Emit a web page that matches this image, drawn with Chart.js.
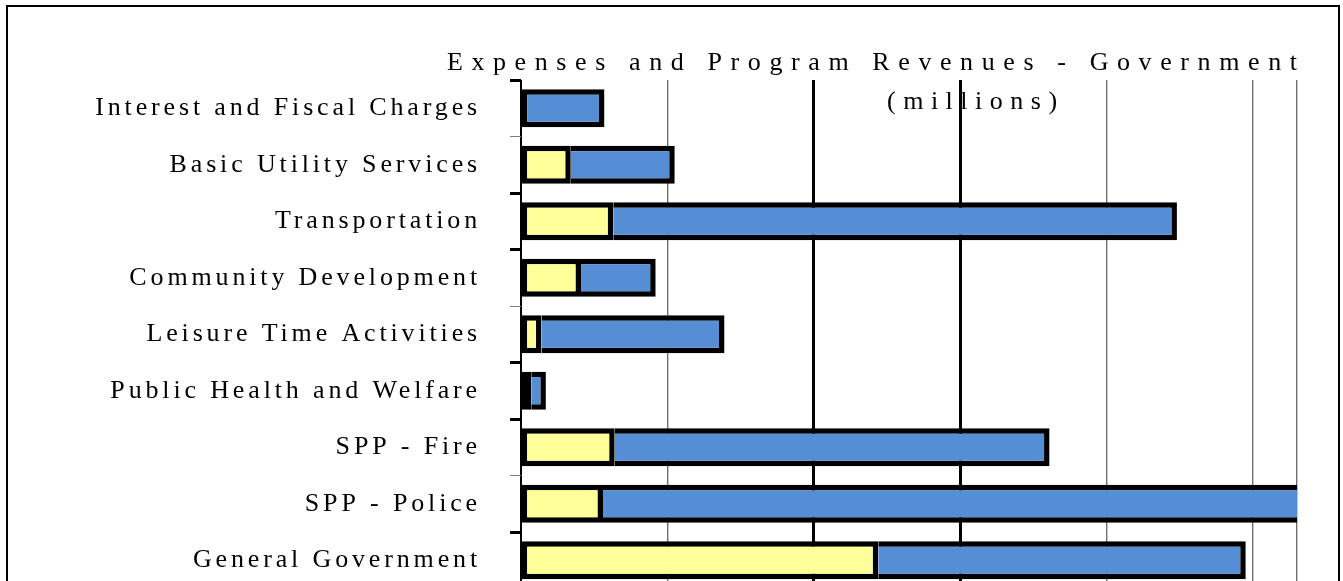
<!DOCTYPE html>
<html><head><meta charset="utf-8">
<script src="https://cdn.jsdelivr.net/npm/chart.js@4.4.1/dist/chart.umd.min.js"></script>
<style>
html,body{margin:0;padding:0;width:1343px;height:581px;overflow:hidden;background:#fff;}
#frame{position:absolute;left:6px;top:5px;width:1330px;height:700px;border:2px solid #000;}
#wrap{position:absolute;left:0;top:0;width:1343px;height:650px;}
</style></head><body>
<div id="frame"></div>
<div id="wrap"><canvas id="c"></canvas></div>
<script>
const categories = ['Interest and Fiscal Charges','Basic Utility Services','Transportation','Community Development','Leisure Time Activities','Public Health and Welfare','SPP - Fire','SPP - Police','General Government'];
const programRevenues = [0, 3.4, 6.3, 4.1, 1.4, 0.7, 6.4, 5.6, 24.4];
const expenses = [5.7, 7.1, 38.5, 5.1, 12.5, 1.0, 29.7, 49.0, 25.1];
const titleLines = ['Expenses and Program Revenues - Government', '(millions)'];
const xMax = 53, xStep = 10;

const LABEL_FONT = 'Liberation Serif';
const LABEL_SPACING = '3.85px';
const TITLE_SPACING = 8.6;
const SUB_SPACING = 7.5;
const spacingPlugin = {
  id: 'spacing',
  beforeUpdate(ch){ ch.ctx.letterSpacing = LABEL_SPACING; },
  beforeLayout(ch){ ch.ctx.letterSpacing = LABEL_SPACING; },
  beforeDraw(ch){ ch.ctx.letterSpacing = LABEL_SPACING; }
};
const titlePlugin = {
  id: 'twoLineTitle',
  afterDraw(ch){
    const c = ch.ctx, a = ch.chartArea;
    c.save();
    c.fillStyle = '#000';
    c.font = '26px "' + LABEL_FONT + '"';
    c.textBaseline = 'alphabetic';
    c.letterSpacing = TITLE_SPACING + 'px';
    c.textAlign = 'right';
    c.fillText(titleLines[0], a.right + TITLE_SPACING, a.top - 10);
    c.letterSpacing = SUB_SPACING + 'px';
    c.textAlign = 'left';
    c.fillText(titleLines[1], a.left + 366, a.top + 29);
    c.restore();
  }
};

new Chart(document.getElementById('c'), {
  type: 'bar',
  data: {
    labels: categories,
    datasets: [
      {label:'Program Revenues', data: programRevenues, backgroundColor:'#FFFF99', borderColor:'#000', borderWidth:5.5, borderSkipped:false, clip:0},
      {label:'Expenses', data: expenses, backgroundColor:'#558ED5', borderColor:'#000', borderWidth:5.5,
        borderSkipped: c => programRevenues[c.dataIndex] > 0 ? 'left' : false, clip:0}
    ]
  },
  options: {
    indexAxis: 'y',
    responsive: true,
    maintainAspectRatio: false,
    animation: false,
    layout: {padding: {top: 80, right: 46, bottom: 61.5, left: 0}},
    plugins: {legend:{display:false}, title:{display:false}, tooltip:{enabled:false}},
    datasets: {bar: {categoryPercentage: 0.67, barPercentage: 1}},
    scales: {
      x: {
        stacked: true, min: 0, max: xMax,
        ticks: {stepSize: xStep, display: false},
        grid: {
          drawTicks: false,
          color: c => (c.tick && (c.tick.value === 20 || c.tick.value === 30 || c.tick.value === 0)) ? '#000' : '#707070',
          lineWidth: c => (c.tick && (c.tick.value === 20 || c.tick.value === 30)) ? 3 : 1.4
        },
        border: {display: false}
      },
      y: {
        stacked: true,
        afterFit: s => { s.width = 521; },
        grid: {
          drawOnChartArea: false, offset: true, tickLength: 11,
          tickColor: c => c.index % 3 === 1 ? '#808080' : '#000',
          tickWidth: c => c.index % 3 === 1 ? 1 : 3
        },
        border: {display: true, color: '#000', width: 1},
        ticks: {color: '#000', font: {family: LABEL_FONT, size: 26}, padding: 29}
      }
    }
  },
  plugins: [spacingPlugin, titlePlugin]
});
</script>
</body></html>
